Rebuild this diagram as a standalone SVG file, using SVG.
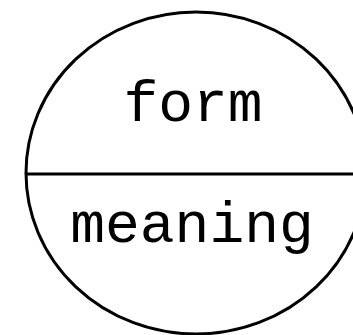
<svg xmlns="http://www.w3.org/2000/svg" width="353" height="335" viewBox="0 0 353 335">
<style>
.s{fill:none;stroke:#000;stroke-width:3}
.t{font-family:"Liberation Mono","Courier New",monospace;font-size:58px;fill:#000;text-anchor:middle}
</style>
<rect width="353" height="335" fill="#fff"/>
<g id="node-sign">
<ellipse class="s" cx="196" cy="173" rx="170" ry="161"/>
<text class="t" x="193" y="121">form</text>
<text class="t" x="192" y="242">meaning</text>
</g>
<g id="connectors">
<line class="s" x1="26" y1="174" x2="353" y2="174"/>
</g>
</svg>
